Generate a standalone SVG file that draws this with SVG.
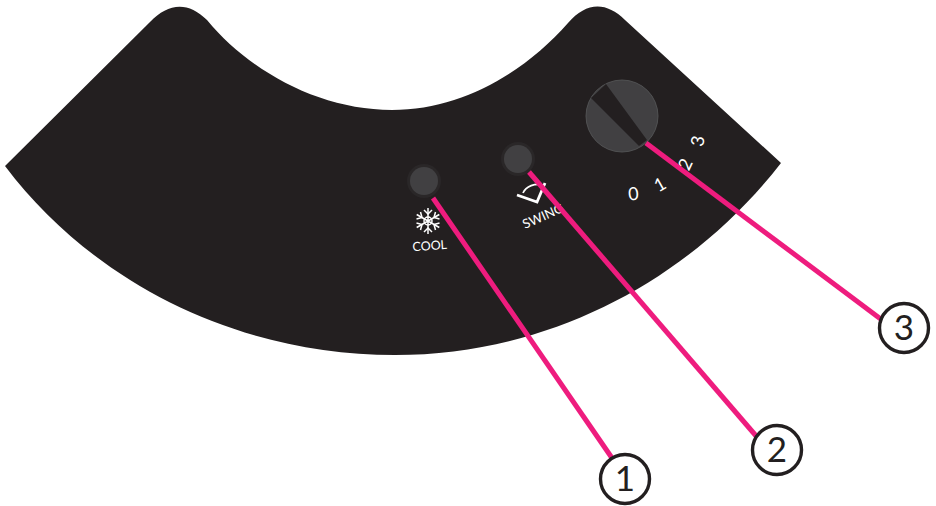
<svg xmlns="http://www.w3.org/2000/svg" width="936" height="506" viewBox="0 0 936 506">
<style>
.w{font-family:"Lato","Liberation Sans",sans-serif;font-weight:400;fill:#fff}
.n{font-family:"Lato","Liberation Sans",sans-serif;font-weight:400;font-size:35px;fill:#231f20;text-anchor:middle}
.c{fill:#fff;stroke:#231f20;stroke-width:3.4}
.l{stroke:#ee1c7e;stroke-width:5;fill:none}
.i{stroke:#fff;fill:none}
</style>
<g id="panel">
<path d="M5 166 L150 22 C168 3 188 1 207 20 C250 72 320 110 392 110 C462 110 525 72 568 23 C586 2 606 1 625 20 L781 163 C690 280 550 355 395 355 C240 355 95 285 5 166 Z" fill="#231f20"/>
</g>
<g id="button-cool">
<circle cx="424" cy="181" r="17" fill="#2a2728"/>
<circle cx="424" cy="181" r="14" fill="#414042"/>
<g class="i" stroke-width="1.5" transform="translate(428,221)">
<path d="M0-13V13M-11.300-6.500L11.300 6.500M-11.300 6.500L11.300-6.500"/>
<path d="M-4-11L0-7L4-11M-4 11L0 7L4 11M-11.500-2L-6-3.500L-7.500-9M11.500-2L6-3.500L7.500-9M-11.500 2L-6 3.500L-7.500 9M11.500 2L6 3.500L7.500 9"/>
<circle r="4"/>
</g>
<text class="w" font-size="12.500" text-anchor="middle" transform="translate(430,250) rotate(-4)">COOL</text>
</g>
<g id="button-swing">
<circle cx="518" cy="159" r="17" fill="#2a2728"/>
<circle cx="518" cy="159" r="14" fill="#414042"/>
<path class="i" stroke-width="2.800" d="M517 195L537 202L545 183"/>
<path class="i" stroke-width="1.700" d="M523 193C526 186 535 183 543 185"/>
<text class="w" font-size="13" transform="translate(525,229) rotate(-24)">SWING</text>
</g>
<g id="knob">
<circle cx="622" cy="116" r="36" fill="#414042" stroke="#58595b" stroke-width="0.800"/>
<path d="M591 98L606 84L647 140L639 146Z" fill="#231f20"/>
<text class="w" font-size="18" text-anchor="middle" transform="translate(634,200) rotate(-5)">0</text>
<text class="w" font-size="18" text-anchor="middle" transform="translate(663,190) rotate(-30)">1</text>
<text class="w" font-size="18" text-anchor="middle" transform="translate(691,167) rotate(-65)">2</text>
<text class="w" font-size="18" text-anchor="middle" transform="translate(704,142) rotate(-80)">3</text>
</g>
<g id="connectors">
<path class="l" d="M433 198L612 458"/>
<path class="l" d="M529 172L757 437"/>
<path class="l" d="M646 143L882 320"/>
</g>
<g id="callout-1"><circle class="c" cx="625" cy="479" r="24.500"/><text class="n" x="625" y="491">1</text></g>
<g id="callout-2"><circle class="c" cx="777" cy="450" r="24.500"/><text class="n" x="777" y="462">2</text></g>
<g id="callout-3"><circle class="c" cx="904" cy="328" r="24.500"/><text class="n" x="904" y="340">3</text></g>
</svg>
